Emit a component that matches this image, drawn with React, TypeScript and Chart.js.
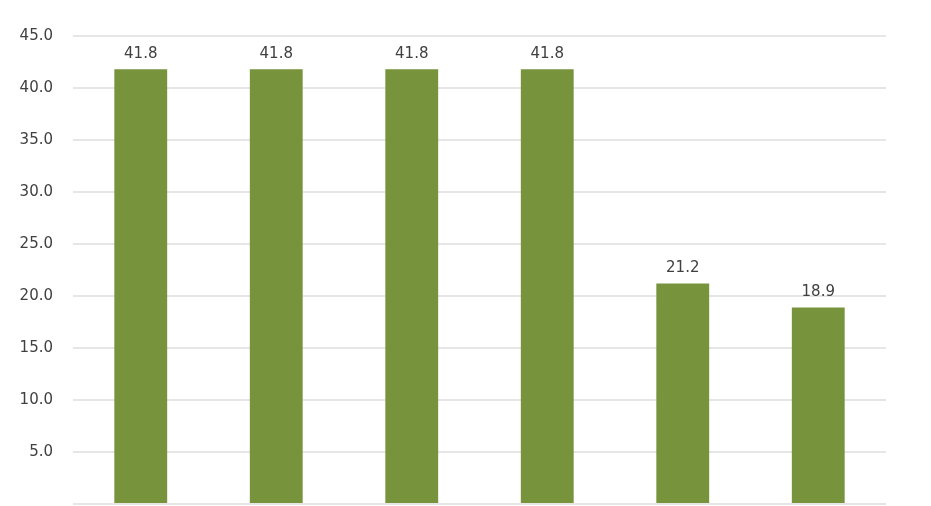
import React, { useEffect, useRef } from "react";
import { Chart, registerables } from "chart.js";

Chart.register(...registerables);

const categories = ["1", "2", "3", "4", "5", "6"];
const values = [41.8, 41.8, 41.8, 41.8, 21.2, 18.9];
const yMin = 0;
const yMax = 45;
const yStep = 5;

const FONT = "'DejaVu Sans', sans-serif";
const TEXT = "#404040";

const dataLabels = {
  id: "dataLabels",
  afterDatasetsDraw(chart: any) {
    const ctx = chart.ctx;
    const meta = chart.getDatasetMeta(0);
    ctx.save();
    ctx.font = `15px ${FONT}`;
    ctx.fillStyle = TEXT;
    ctx.textAlign = "center";
    ctx.textBaseline = "bottom";
    meta.data.forEach((bar: any, i: number) => {
      ctx.fillText(values[i].toFixed(1), bar.x, bar.y - 8);
    });
    ctx.restore();
  },
};

export default function App() {
  const ref = useRef<HTMLCanvasElement | null>(null);
  useEffect(() => {
    if (!ref.current) return;
    const chart = new Chart(ref.current, {
      type: "bar",
      data: {
        labels: categories,
        datasets: [
          {
            data: values,
            backgroundColor: "#77933C",
            categoryPercentage: 1,
            barPercentage: 0.39,
          },
        ],
      },
      options: {
        animation: false,
        responsive: false,
        maintainAspectRatio: false,
        layout: { padding: { top: 36, right: 45, bottom: 36, left: 0 } },
        plugins: { legend: { display: false }, tooltip: { enabled: false } },
        scales: {
          x: { display: false },
          y: {
            min: yMin,
            max: yMax,
            border: { display: false },
            grid: { color: "#e6e6e6", lineWidth: 2, drawTicks: false },
            ticks: {
              stepSize: yStep,
              padding: 20,
              color: TEXT,
              font: { family: FONT, size: 15 },
              callback: (v: any) => (Number(v) === 0 ? "" : Number(v).toFixed(1)),
            },
            afterFit: (scale: any) => {
              scale.width = 73;
            },
          },
        },
      },
      plugins: [dataLabels],
    });
    return () => chart.destroy();
  }, []);
  return (
    <div
      style={{
        position: "fixed",
        left: 0,
        top: 0,
        width: 931,
        height: 506,
        overflow: "hidden",
        background: "#fff",
      }}
    >
      <canvas ref={ref} width={931} height={540} style={{ display: "block" }} />
    </div>
  );
}
